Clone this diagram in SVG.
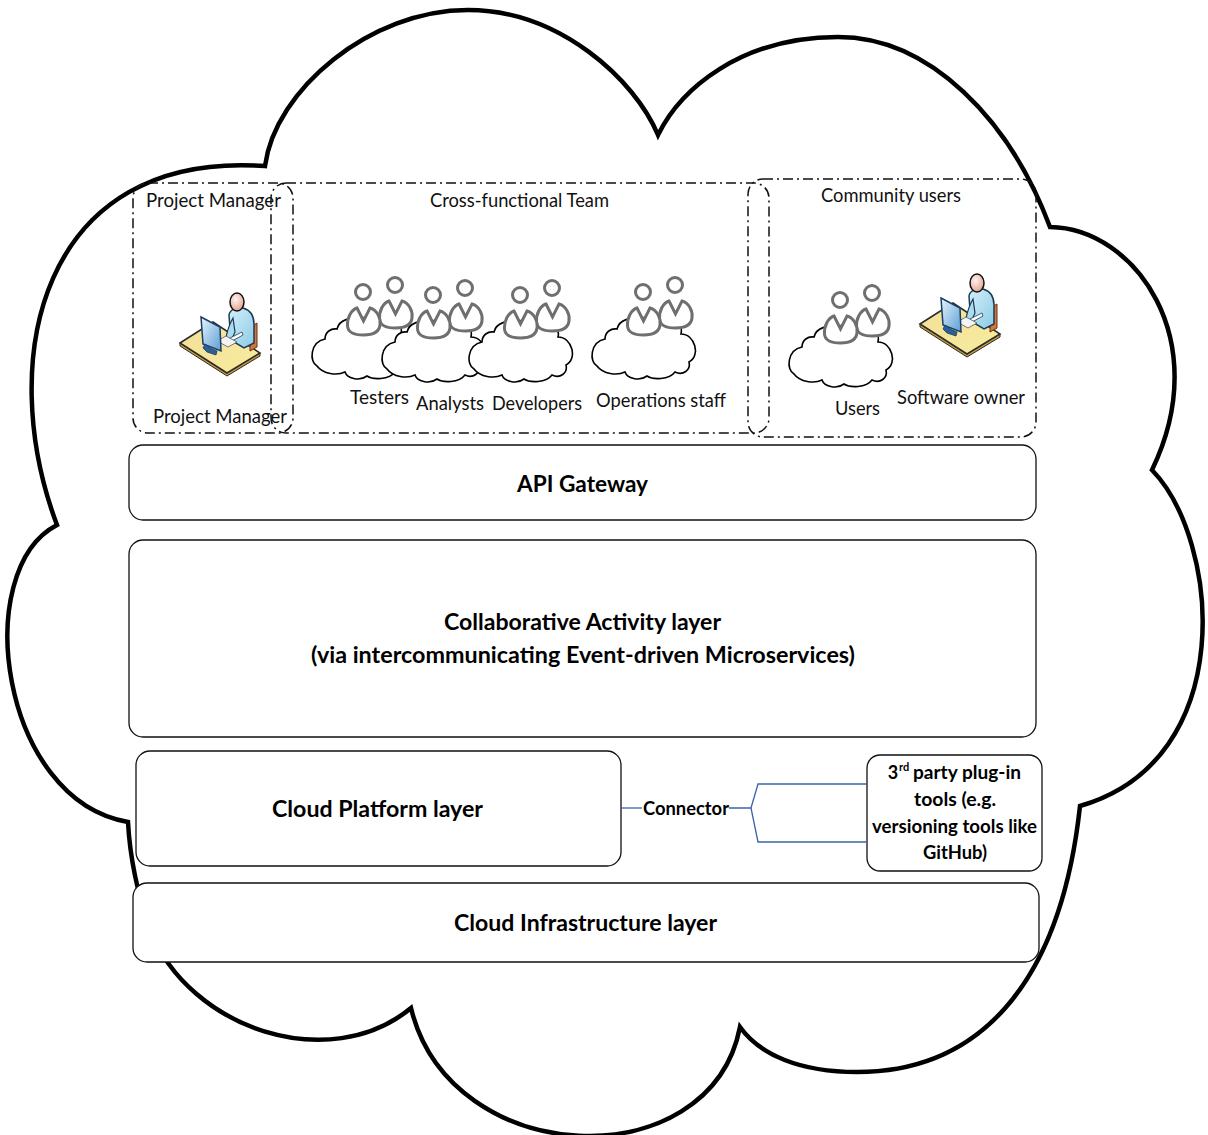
<svg xmlns="http://www.w3.org/2000/svg" width="1208" height="1135" viewBox="0 0 1208 1135">
  <style>
    .lbl{font-family:Lato,"Liberation Sans",sans-serif;font-size:19px;fill:#111;text-anchor:middle}
    .blbl{font-family:Lato,"Liberation Sans",sans-serif;font-weight:bold;font-size:22px;fill:#000;text-anchor:middle}
    .slbl{font-family:Lato,"Liberation Sans",sans-serif;font-weight:bold;font-size:18px;fill:#000;text-anchor:middle}
    .sup{font-family:Lato,"Liberation Sans",sans-serif;font-weight:bold;font-size:11px;fill:#000}
    .layer{fill:#fff;stroke:#111;stroke-width:1.3}
    .grp{fill:none;stroke:#111;stroke-width:1.5;stroke-dasharray:10 4 2 4}
    .conn{fill:none;stroke:#3b64a8;stroke-width:1.3}
    .person{fill:#fff;stroke:#6f6f6f;stroke-width:3}
    .minicloud{fill:#fff;stroke:#000;stroke-width:1.6}
  </style>
  <defs>
    <linearGradient id="deskGrad" x1="0" y1="0" x2="1" y2="1">
      <stop offset="0" stop-color="#f3df98"/>
      <stop offset="1" stop-color="#f7ec9e"/>
    </linearGradient>
    <linearGradient id="shirtGrad" x1="0" y1="0" x2="1" y2="1">
      <stop offset="0" stop-color="#d4effa"/>
      <stop offset="1" stop-color="#8ccbe6"/>
    </linearGradient>
    <linearGradient id="screenGrad" x1="0" y1="0" x2="1" y2="1">
      <stop offset="0" stop-color="#e6f4fc"/>
      <stop offset="1" stop-color="#5d9fd3"/>
    </linearGradient>
    <radialGradient id="skinGrad" cx="0.4" cy="0.35" r="0.7">
      <stop offset="0" stop-color="#fff4ef"/>
      <stop offset="1" stop-color="#e2a08c"/>
    </radialGradient>

    <!-- a pair of outlined people over a small cloud; origin = front head centre -->
    <g id="team">
      <path class="minicloud" transform="translate(-52,20)" d="M6,54 C-2,50 -1,30 14,27 C14,20 20,16 26,17 C28,8 40,4 50,8 C58,0 74,2 78,10 C86,8 92,14 90,22 C104,22 110,44 98,50 C100,58 92,64 84,60 C78,68 62,68 56,64 C48,70 36,66 34,60 C26,64 12,62 6,54 Z"/>
      <g transform="translate(32,-7)">
        <path class="person" d="M-6,16 L0.5,29 L7,16 C14,18 18,26 17,33 C16,41 8,43 0.5,43 C-7,43 -15,41 -15.5,34 C-16,26 -12,18 -6,16 Z"/>
        <circle class="person" cx="0" cy="0" r="7.5"/>
      </g>
      <path class="person" d="M-6,16 L0.5,29 L7,16 C14,18 18,26 17,33 C16,41 8,43 0.5,43 C-7,43 -15,41 -15.5,34 C-16,26 -12,18 -6,16 Z"/>
      <circle class="person" cx="0" cy="0" r="7.5"/>
    </g>

    <!-- person working at a desk with a monitor -->
    <g id="deskUser">
      <path d="M0,52 L0,55 L47,85 L80,65 L80,62 L47,82 Z" fill="#c79a3c" stroke="#2b2b2b" stroke-width="1"/>
      <path d="M0,52 L33,31 L80,62 L47,82 Z" fill="url(#deskGrad)" stroke="#2b2b2b" stroke-width="1.5"/>
      <path d="M70,36 L77,32 L77,56 L70,60 Z" fill="#d7743a" stroke="#6a3212" stroke-width="1"/>
      <path d="M49,24 C50,18 57,16 63,17 C70,19 74,25 74,33 L74,52 L64,57 L54,51 L50,38 Z" fill="url(#shirtGrad)" stroke="#1d3b52" stroke-width="1.5"/>
      <path d="M53,27 C49,34 47,41 46,47 L51,50 L55,41 Z" fill="#a9dcf0" stroke="#1d3b52" stroke-width="1.2"/>
      <path d="M50,47 L62,41 L63,44 L52,50 Z" fill="#ffffff" stroke="#1d3b52" stroke-width="0.8"/>
      <path d="M37,50 L46,45 L57,51 L48,56 Z" fill="#f4f4f4" stroke="#555" stroke-width="0.8"/>
      <path d="M21,26 L40,36 L41,60 L23,53 Z" fill="url(#screenGrad)" stroke="#1c3d66" stroke-width="1.5"/>
      <path d="M25,53 L30,57 L37,60 L36,64 L27,61 L23,57 Z" fill="#2d5f96" stroke="#1c3d66" stroke-width="0.8"/>
      <ellipse cx="57" cy="11" rx="7" ry="9" fill="url(#skinGrad)" stroke="#111" stroke-width="1.5"/>
    </g>
  </defs>

  <rect width="1208" height="1135" fill="#fff"/>

  <!-- outer cloud -->
  <g id="cloud-boundary">
    <path d="M265,166 C275,90 370,10 468,10 C560,10 635,80 658,135 C680,90 740,37 838,37 C930,37 1010,120 1050,227 C1135,228 1215,340 1152,470 C1220,540 1240,760 1080,806 C1060,990 975,1072 857,1072 C800,1072 760,1055 740,1027 C710,1180 450,1170 411,1008 C330,1075 190,1030 150,930 C138,895 130,860 128,822 C0,800 -30,570 57,525 C-5,360 40,150 265,166 Z" fill="#fff" stroke="#000" stroke-width="4.5" stroke-linejoin="miter"/>
  </g>

  <!-- stakeholder groups -->
  <g id="group-project-manager">
    <rect class="grp" x="133" y="183" width="160" height="250" rx="15"/>
    <use href="#deskUser" x="180" y="291"/>
    <text class="lbl" x="213.5" y="207" textLength="135" lengthAdjust="spacingAndGlyphs">Project Manager</text>
    <text class="lbl" x="220" y="423" textLength="134" lengthAdjust="spacingAndGlyphs">Project Manager</text>
  </g>

  <g id="group-cross-functional-team">
    <rect class="grp" x="271" y="183" width="498" height="250" rx="15"/>
    <text class="lbl" x="519.5" y="207" textLength="179" lengthAdjust="spacingAndGlyphs">Cross-functional Team</text>
    <g id="testers">
      <use href="#team" x="363" y="292"/>
      <text class="lbl" x="379.5" y="404" textLength="59" lengthAdjust="spacingAndGlyphs">Testers</text>
    </g>
    <g id="analysts">
      <use href="#team" x="433" y="295"/>
      <text class="lbl" x="450" y="410" textLength="68" lengthAdjust="spacingAndGlyphs">Analysts</text>
    </g>
    <g id="developers">
      <use href="#team" x="520" y="295"/>
      <text class="lbl" x="537" y="410" textLength="90" lengthAdjust="spacingAndGlyphs">Developers</text>
    </g>
    <g id="operations-staff">
      <use href="#team" x="643" y="292"/>
      <text class="lbl" x="661" y="407" textLength="130" lengthAdjust="spacingAndGlyphs">Operations staff</text>
    </g>
  </g>

  <g id="group-community-users">
    <rect class="grp" x="748" y="179" width="288" height="258" rx="15"/>
    <text class="lbl" x="891" y="202" textLength="140" lengthAdjust="spacingAndGlyphs">Community users</text>
    <g id="users">
      <use href="#team" x="840" y="300"/>
      <text class="lbl" x="857.5" y="415" textLength="45" lengthAdjust="spacingAndGlyphs">Users</text>
    </g>
    <g id="software-owner">
      <use href="#deskUser" x="920" y="272"/>
      <text class="lbl" x="961" y="404" textLength="128" lengthAdjust="spacingAndGlyphs">Software owner</text>
    </g>
  </g>

  <!-- architecture layers -->
  <g id="api-gateway">
    <rect class="layer" x="129" y="445" width="907" height="75" rx="14"/>
    <text class="blbl" x="582.5" y="492" textLength="131" lengthAdjust="spacingAndGlyphs">API Gateway</text>
  </g>

  <g id="collaborative-activity-layer">
    <rect class="layer" x="129" y="540" width="907" height="197" rx="14"/>
    <text class="blbl" x="582.5" y="630" textLength="277" lengthAdjust="spacingAndGlyphs">Collaborative Activity layer</text>
    <text class="blbl" x="583" y="663" textLength="544" lengthAdjust="spacingAndGlyphs">(via intercommunicating Event-driven Microservices)</text>
  </g>

  <g id="cloud-platform-layer">
    <rect class="layer" x="136" y="751" width="485" height="115" rx="14"/>
    <text class="blbl" x="377.5" y="817" textLength="211" lengthAdjust="spacingAndGlyphs">Cloud Platform layer</text>
  </g>

  <g id="third-party-tools">
    <rect class="layer" x="867" y="755" width="175" height="116" rx="13"/>
    <text class="slbl" x="893" y="779">3</text>
    <text class="sup" x="899" y="771">rd</text>
    <text class="slbl" x="967" y="779" textLength="108" lengthAdjust="spacingAndGlyphs">party plug-in</text>
    <text class="slbl" x="955" y="806" textLength="82" lengthAdjust="spacingAndGlyphs">tools (e.g.</text>
    <text class="slbl" x="954.5" y="833" textLength="165" lengthAdjust="spacingAndGlyphs">versioning tools like</text>
    <text class="slbl" x="955" y="859" textLength="64" lengthAdjust="spacingAndGlyphs">GitHub)</text>
  </g>

  <g id="cloud-infrastructure-layer">
    <rect class="layer" x="133" y="883" width="906" height="79" rx="14"/>
    <text class="blbl" x="585.5" y="931" textLength="263" lengthAdjust="spacingAndGlyphs">Cloud Infrastructure layer</text>
  </g>

  <!-- connector between the platform layer and plug-in tools -->
  <g id="connectors">
    <path class="conn" d="M621,808 L642,808"/>
    <path class="conn" d="M729,808 L751,808 L758,784 L867,784"/>
    <path class="conn" d="M751,808 L758,842 L867,842"/>
    <text class="slbl" x="686" y="815" textLength="86" lengthAdjust="spacingAndGlyphs">Connector</text>
  </g>
</svg>
